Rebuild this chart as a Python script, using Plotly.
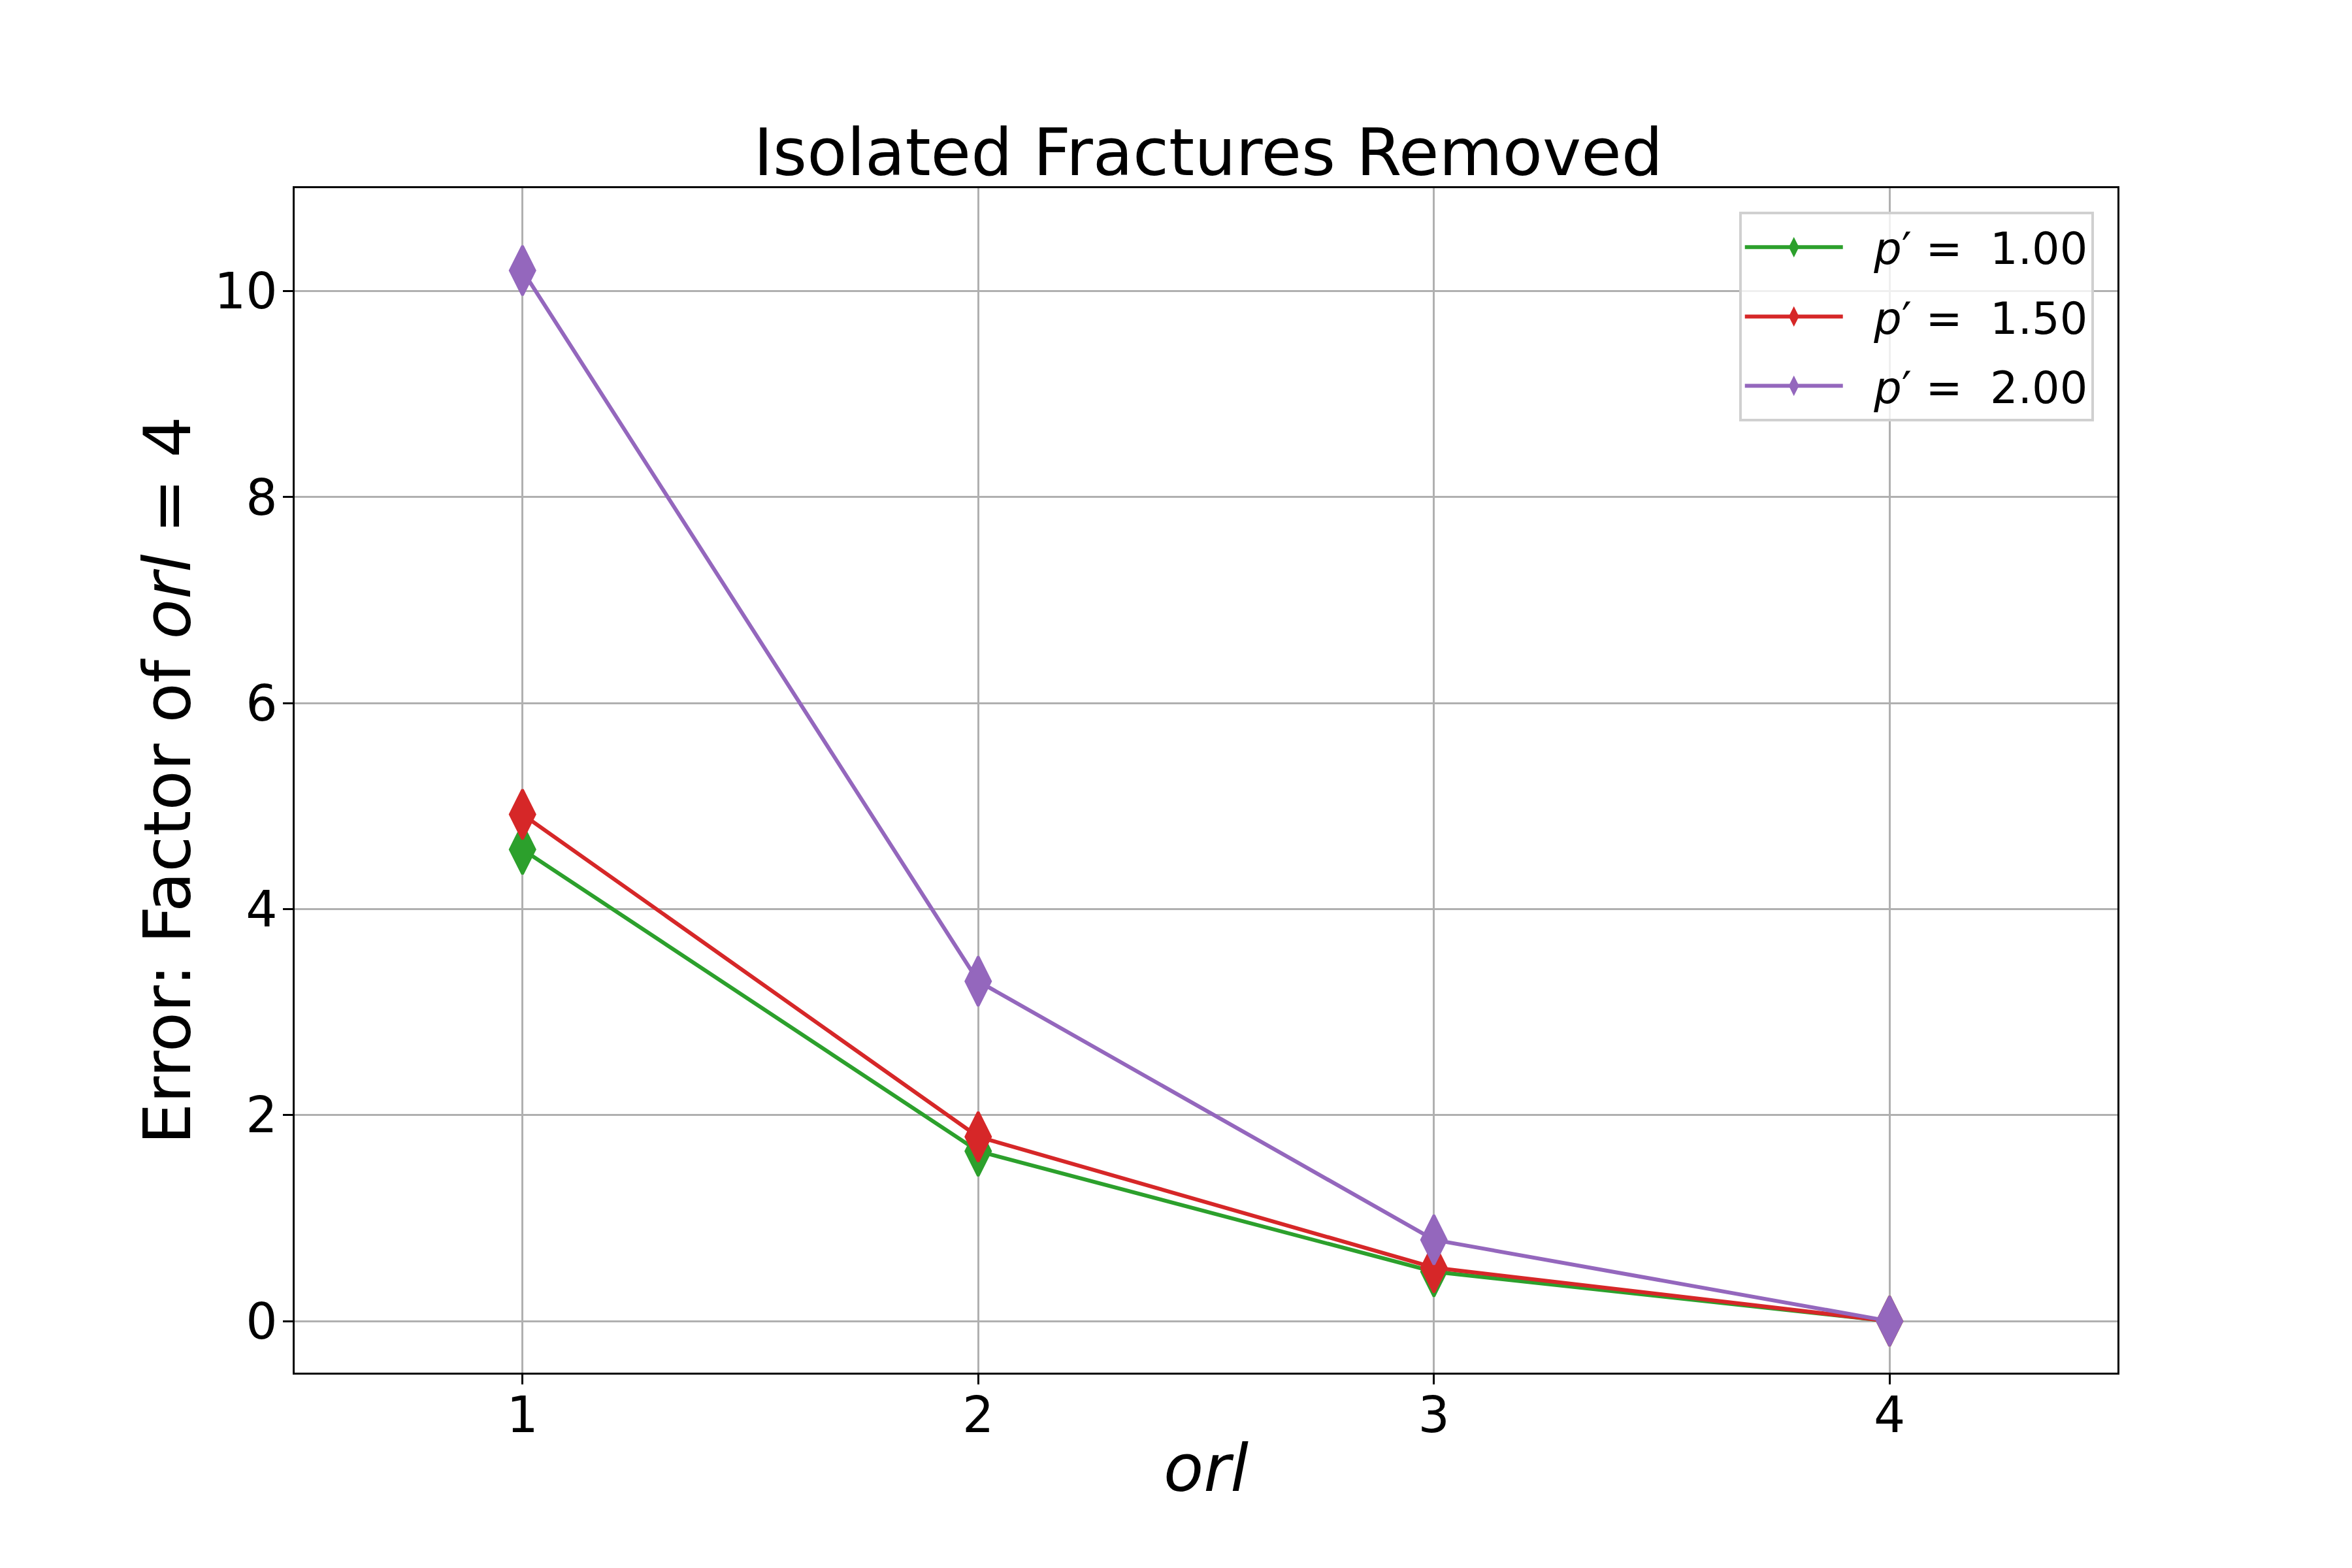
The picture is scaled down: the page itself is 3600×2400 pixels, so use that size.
import plotly.graph_objects as go

orl = [1, 2, 3, 4]
p_labels = ["1.00", "1.50", "2.00"]
err_p100 = [4.58, 1.65, 0.48, 0.0]
err_p150 = [4.92, 1.79, 0.52, 0.0]
err_p200 = [10.20, 3.30, 0.79, 0.0]
colors = ["#2ca02c", "#d62728", "#9467bd"]

font = "DejaVu Sans"

fig = go.Figure()
for lab, ys, c in zip(p_labels, [err_p100, err_p150, err_p200], colors):
    fig.add_trace(go.Scatter(
        x=orl, y=ys, mode="lines+markers",
        name="\u00a0\u00a0<i>p</i>′ =\u00a0\u00a0" + lab,
        legendgroup=lab,
        line=dict(color=c, width=6),
        marker=dict(symbol="diamond-tall", size=54, color=c,
                    line=dict(color=c, width=4)),
    ))

axis_common = dict(
    showline=True, linecolor="black", linewidth=3.3, mirror=True,
    showgrid=True, gridcolor="#b0b0b0", gridwidth=3.3,
    zeroline=False,
    ticks="outside", ticklen=15, tickwidth=3.3, tickcolor="black",
    tickfont=dict(family=font, size=76, color="black"),
    automargin=False,
)

fig.update_xaxes(range=[0.5, 4.5], tickvals=orl, ticklabelstandoff=-18,
                 title=dict(text="<i>orl</i>", font=dict(family=font, size=100, color="black"),
                            standoff=3),
                 **axis_common)
fig.update_yaxes(range=[-0.5, 11], tickvals=[0, 2, 4, 6, 8, 10], ticklabelstandoff=-7,
                 title=dict(text="Error: Factor of <i>orl</i> = 4",
                            font=dict(family=font, size=100, color="black"),
                            standoff=3),
                 **axis_common)

fig.update_layout(
    width=3600, height=2400,
    margin=dict(l=443, r=367, t=280, b=307),
    paper_bgcolor="white", plot_bgcolor="white",
    font=dict(family=font, color="black"),
    title=dict(text="Isolated Fractures Removed", x=0.5115, xanchor="center",
               yref="container", y=0.8916, yanchor="bottom",
               font=dict(family=font, size=100, color="black")),
    legend=dict(x=0.987, xanchor="right", y=0.98, yanchor="top",
                bgcolor="rgba(255,255,255,0.8)", bordercolor="#d0d0d0", borderwidth=4,
                font=dict(family=font, size=67, color="black"),
                itemwidth=150, tracegroupgap=16),
    showlegend=True,
)

fig.write_html("out.html")
